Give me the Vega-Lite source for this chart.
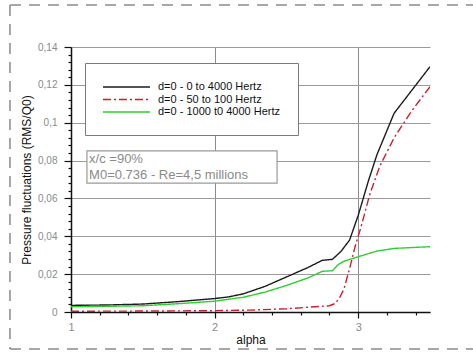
{
  "$schema": "https://vega.github.io/schema/vega-lite/v6.json",
  "autosize": {"type": "none"},
  "padding": {"left": 71, "top": 47, "right": 43, "bottom": 41},
  "width": 359,
  "height": 265,
  "background": "white",
  "config": {
    "view": {"stroke": null},
    "font": "Liberation Sans"
  },
  "datasets": {
    "spectra": [
      {"alpha": 1.0, "rms": 0.0035, "series": "d=0 - 0 to 4000 Hertz"},
      {"alpha": 1.25, "rms": 0.0037, "series": "d=0 - 0 to 4000 Hertz"},
      {"alpha": 1.5, "rms": 0.0042, "series": "d=0 - 0 to 4000 Hertz"},
      {"alpha": 1.75, "rms": 0.0055, "series": "d=0 - 0 to 4000 Hertz"},
      {"alpha": 2.0, "rms": 0.0071, "series": "d=0 - 0 to 4000 Hertz"},
      {"alpha": 2.1, "rms": 0.008, "series": "d=0 - 0 to 4000 Hertz"},
      {"alpha": 2.2, "rms": 0.0096, "series": "d=0 - 0 to 4000 Hertz"},
      {"alpha": 2.35, "rms": 0.0135, "series": "d=0 - 0 to 4000 Hertz"},
      {"alpha": 2.5, "rms": 0.0185, "series": "d=0 - 0 to 4000 Hertz"},
      {"alpha": 2.65, "rms": 0.0235, "series": "d=0 - 0 to 4000 Hertz"},
      {"alpha": 2.75, "rms": 0.0273, "series": "d=0 - 0 to 4000 Hertz"},
      {"alpha": 2.82, "rms": 0.0278, "series": "d=0 - 0 to 4000 Hertz"},
      {"alpha": 2.88, "rms": 0.032, "series": "d=0 - 0 to 4000 Hertz"},
      {"alpha": 2.94, "rms": 0.038, "series": "d=0 - 0 to 4000 Hertz"},
      {"alpha": 3.0, "rms": 0.051, "series": "d=0 - 0 to 4000 Hertz"},
      {"alpha": 3.07, "rms": 0.069, "series": "d=0 - 0 to 4000 Hertz"},
      {"alpha": 3.13, "rms": 0.083, "series": "d=0 - 0 to 4000 Hertz"},
      {"alpha": 3.25, "rms": 0.105, "series": "d=0 - 0 to 4000 Hertz"},
      {"alpha": 3.5, "rms": 0.1296, "series": "d=0 - 0 to 4000 Hertz"},

      {"alpha": 1.0, "rms": 0.0004, "series": "d=0 - 50 to 100 Hertz"},
      {"alpha": 1.5, "rms": 0.0005, "series": "d=0 - 50 to 100 Hertz"},
      {"alpha": 2.0, "rms": 0.0007, "series": "d=0 - 50 to 100 Hertz"},
      {"alpha": 2.25, "rms": 0.001, "series": "d=0 - 50 to 100 Hertz"},
      {"alpha": 2.5, "rms": 0.0017, "series": "d=0 - 50 to 100 Hertz"},
      {"alpha": 2.65, "rms": 0.0025, "series": "d=0 - 50 to 100 Hertz"},
      {"alpha": 2.8, "rms": 0.0033, "series": "d=0 - 50 to 100 Hertz"},
      {"alpha": 2.84, "rms": 0.0045, "series": "d=0 - 50 to 100 Hertz"},
      {"alpha": 2.87, "rms": 0.0075, "series": "d=0 - 50 to 100 Hertz"},
      {"alpha": 2.9, "rms": 0.012, "series": "d=0 - 50 to 100 Hertz"},
      {"alpha": 2.94, "rms": 0.023, "series": "d=0 - 50 to 100 Hertz"},
      {"alpha": 2.98, "rms": 0.035, "series": "d=0 - 50 to 100 Hertz"},
      {"alpha": 3.02, "rms": 0.045, "series": "d=0 - 50 to 100 Hertz"},
      {"alpha": 3.08, "rms": 0.062, "series": "d=0 - 50 to 100 Hertz"},
      {"alpha": 3.15, "rms": 0.077, "series": "d=0 - 50 to 100 Hertz"},
      {"alpha": 3.25, "rms": 0.092, "series": "d=0 - 50 to 100 Hertz"},
      {"alpha": 3.37, "rms": 0.106, "series": "d=0 - 50 to 100 Hertz"},
      {"alpha": 3.5, "rms": 0.119, "series": "d=0 - 50 to 100 Hertz"},

      {"alpha": 1.0, "rms": 0.0028, "series": "d=0 - 1000 t0 4000 Hertz"},
      {"alpha": 1.25, "rms": 0.003, "series": "d=0 - 1000 t0 4000 Hertz"},
      {"alpha": 1.5, "rms": 0.0033, "series": "d=0 - 1000 t0 4000 Hertz"},
      {"alpha": 1.75, "rms": 0.0044, "series": "d=0 - 1000 t0 4000 Hertz"},
      {"alpha": 2.0, "rms": 0.0057, "series": "d=0 - 1000 t0 4000 Hertz"},
      {"alpha": 2.2, "rms": 0.0078, "series": "d=0 - 1000 t0 4000 Hertz"},
      {"alpha": 2.35, "rms": 0.0105, "series": "d=0 - 1000 t0 4000 Hertz"},
      {"alpha": 2.5, "rms": 0.014, "series": "d=0 - 1000 t0 4000 Hertz"},
      {"alpha": 2.65, "rms": 0.018, "series": "d=0 - 1000 t0 4000 Hertz"},
      {"alpha": 2.75, "rms": 0.0215, "series": "d=0 - 1000 t0 4000 Hertz"},
      {"alpha": 2.82, "rms": 0.0218, "series": "d=0 - 1000 t0 4000 Hertz"},
      {"alpha": 2.86, "rms": 0.025, "series": "d=0 - 1000 t0 4000 Hertz"},
      {"alpha": 2.9, "rms": 0.0268, "series": "d=0 - 1000 t0 4000 Hertz"},
      {"alpha": 3.0, "rms": 0.0292, "series": "d=0 - 1000 t0 4000 Hertz"},
      {"alpha": 3.13, "rms": 0.0322, "series": "d=0 - 1000 t0 4000 Hertz"},
      {"alpha": 3.25, "rms": 0.0336, "series": "d=0 - 1000 t0 4000 Hertz"},
      {"alpha": 3.5, "rms": 0.0345, "series": "d=0 - 1000 t0 4000 Hertz"}
    ],
    "conditions": [
      {"line1": "x/c =90%", "line2": "M0=0.736 - Re=4,5 millions"}
    ]
  },
  "layer": [
    {
      "description": "dashed page frame: top edge",
      "data": {"values": [{}]},
      "mark": {"type": "rule", "stroke": "#8a8a8a", "strokeWidth": 1.5, "strokeDash": [11, 8], "clip": false},
      "encoding": {
        "x": {"datum": 0.575, "type": "quantitative", "scale": {"domain": [1, 3.5], "nice": false, "zero": false}},
        "x2": {"datum": 3.85},
        "y": {"datum": 0.1622, "type": "quantitative", "scale": {"domain": [0, 0.14], "nice": false, "zero": false}}
      }
    },
    {
      "description": "dashed page frame: bottom edge",
      "data": {"values": [{}]},
      "mark": {"type": "rule", "stroke": "#8a8a8a", "strokeWidth": 1.5, "strokeDash": [11, 8], "clip": false},
      "encoding": {
        "x": {"datum": 0.575, "type": "quantitative"},
        "x2": {"datum": 3.85},
        "y": {"datum": -0.0195, "type": "quantitative"}
      }
    },
    {
      "description": "dashed page frame: left edge, drawn as a segment from top to bottom",
      "data": {"values": [{}]},
      "mark": {"type": "rule", "stroke": "#8a8a8a", "strokeWidth": 1.5, "strokeDash": [11, 8], "clip": false},
      "encoding": {
        "x": {"datum": 0.575, "type": "quantitative"},
        "x2": {"datum": 0.575},
        "y": {"datum": 0.1622, "type": "quantitative"},
        "y2": {"datum": -0.0195}
      }
    },
    {
      "data": {"name": "spectra"},
      "mark": {"type": "line", "strokeWidth": 1.4, "clip": true},
      "encoding": {
        "x": {
          "field": "alpha", "type": "quantitative",
          "scale": {"domain": [1, 3.5], "nice": false, "zero": false},
          "axis": {
            "title": "alpha",
            "titleFontSize": 12, "titleFontWeight": "normal", "titleColor": "#111", "titlePadding": 2,
            "values": [1, 1.2, 1.4, 1.6, 1.8, 2, 2.2, 2.4, 2.6, 2.8, 3, 3.2, 3.4],
            "tickCount": 100,
            "labelExpr": "abs(datum.value - round(datum.value)) < 0.01 ? format(datum.value, 'd') : ''",
            "labelOverlap": false, "labelBound": false,
            "labelFontSize": 11, "labelColor": "#8a8a8a", "labelPadding": 3, "labelFlush": false,
            "domainColor": "#111", "domainWidth": 1.5,
            "tickColor": "#111", "tickWidth": 1.2,
            "tickSize": {"condition": {"test": "abs(datum.value - round(datum.value)) < 0.01", "value": 6}, "value": 3},
            "grid": true, "gridColor": "#8c8c8c", "gridWidth": 1,
            "gridOpacity": {"condition": {"test": "abs(datum.value - round(datum.value)) < 0.01", "value": 1}, "value": 0}
          }
        },
        "y": {
          "field": "rms", "type": "quantitative",
          "scale": {"domain": [0, 0.14], "nice": false, "zero": false},
          "axis": {
            "title": "Pressure fluctuations (RMS/Q0)",
            "titleFontSize": 12, "titleFontWeight": "normal", "titleColor": "#111", "titlePadding": 4,
            "values": [0, 0.004, 0.008, 0.012, 0.016, 0.02, 0.024, 0.028, 0.032, 0.036, 0.04, 0.044, 0.048, 0.052, 0.056, 0.06, 0.064, 0.068, 0.072, 0.076, 0.08, 0.084, 0.088, 0.092, 0.096, 0.1, 0.104, 0.108, 0.112, 0.116, 0.12, 0.124, 0.128, 0.132, 0.136, 0.14],
            "tickCount": 100,
            "labelExpr": "abs(datum.value * 50 - round(datum.value * 50)) < 0.01 ? replace(format(datum.value, '.2~f'), '.', ',') : ''",
            "labelOverlap": false, "labelBound": false,
            "labelFontSize": 10, "labelColor": "#8a8a8a", "labelPadding": 7,
            "domainColor": "#111", "domainWidth": 1.5,
            "tickColor": "#111", "tickWidth": 1.2,
            "tickSize": {"condition": {"test": "abs(datum.value * 50 - round(datum.value * 50)) < 0.01", "value": 7}, "value": 3},
            "grid": true, "gridColor": "#9a9a9a", "gridWidth": 1,
            "gridOpacity": {"condition": {"test": "abs(datum.value * 50 - round(datum.value * 50)) < 0.01", "value": 1}, "value": 0}
          }
        },
        "color": {
          "field": "series", "type": "nominal",
          "scale": {
            "domain": ["d=0 - 0 to 4000 Hertz", "d=0 - 50 to 100 Hertz", "d=0 - 1000 t0 4000 Hertz"],
            "range": ["#1c1c1c", "#cc1f2e", "#2fcf2f"]
          },
          "legend": {
            "title": null,
            "orient": "none", "legendX": 14, "legendY": 16,
            "direction": "vertical",
            "strokeColor": "#7a7a7a", "fillColor": "white", "padding": 18,
            "symbolType": "M-1.2,0H8.2", "symbolSize": 100, "symbolStrokeWidth": 1.5,
            "labelFontSize": 11, "labelColor": "#111", "labelOffset": 43, "labelLimit": 300,
            "rowPadding": 1.5
          }
        },
        "strokeDash": {
          "field": "series", "type": "nominal",
          "scale": {
            "domain": ["d=0 - 0 to 4000 Hertz", "d=0 - 50 to 100 Hertz", "d=0 - 1000 t0 4000 Hertz"],
            "range": [[1, 0], [8, 3, 2, 3], [1, 0]]
          },
          "legend": {
            "title": null,
            "orient": "none", "legendX": 14, "legendY": 16,
            "direction": "vertical",
            "strokeColor": "#7a7a7a", "fillColor": "white", "padding": 18,
            "symbolType": "M-1.2,0H8.2", "symbolSize": 100, "symbolStrokeWidth": 1.5,
            "labelFontSize": 11, "labelColor": "#111", "labelOffset": 43, "labelLimit": 300,
            "rowPadding": 1.5
          }
        }
      }
    },
    {
      "description": "flow conditions box",
      "data": {"name": "conditions"},
      "mark": {"type": "rect", "fill": "white", "stroke": "#9a9a9a", "strokeWidth": 1.2},
      "encoding": {
        "x": {"datum": 1.111, "type": "quantitative"},
        "x2": {"datum": 2.435},
        "y": {"datum": 0.0851, "type": "quantitative"},
        "y2": {"datum": 0.0681}
      }
    },
    {
      "data": {"name": "conditions"},
      "mark": {"type": "text", "align": "left", "baseline": "middle", "fontSize": 13, "color": "#8a8a8a"},
      "encoding": {
        "x": {"datum": 1.126, "type": "quantitative"},
        "y": {"datum": 0.0808, "type": "quantitative"},
        "text": {"field": "line1"}
      }
    },
    {
      "data": {"name": "conditions"},
      "mark": {"type": "text", "align": "left", "baseline": "middle", "fontSize": 13, "color": "#8a8a8a"},
      "encoding": {
        "x": {"datum": 1.126, "type": "quantitative"},
        "y": {"datum": 0.0724, "type": "quantitative"},
        "text": {"field": "line2"}
      }
    }
  ]
}
